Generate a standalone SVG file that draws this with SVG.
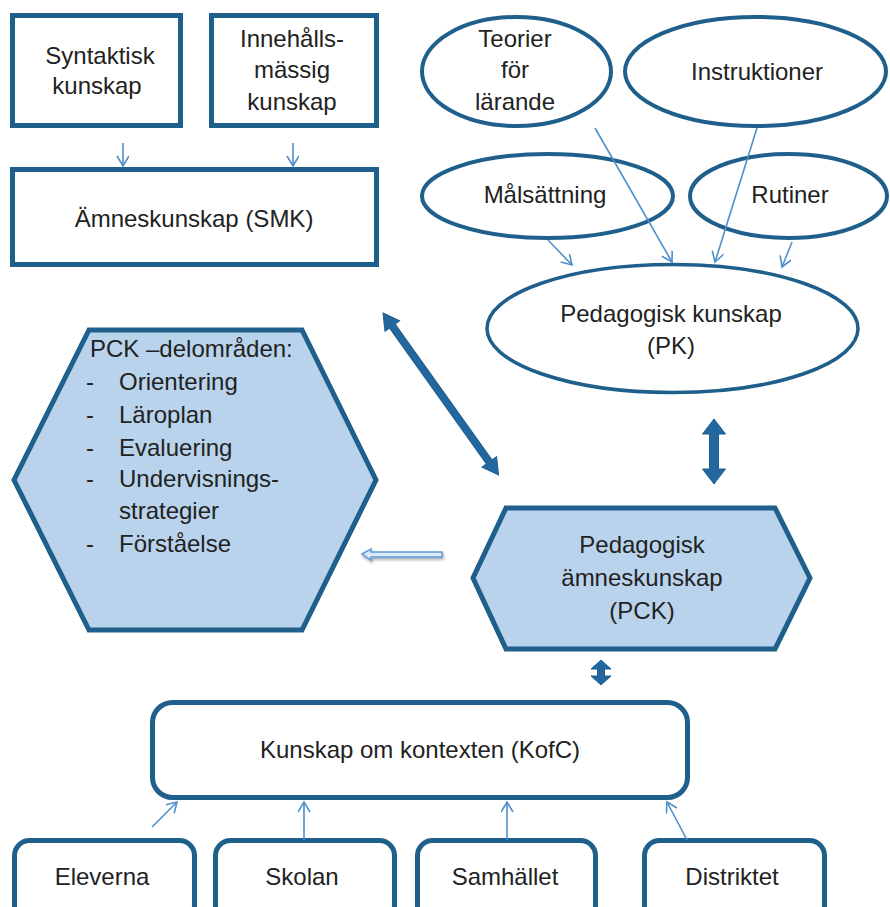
<svg xmlns="http://www.w3.org/2000/svg" width="890" height="907" viewBox="0 0 890 907">
  <style>
    text { font-family: "Liberation Sans", Arial, sans-serif; font-size: 24px; fill: #222; }
    .c { text-anchor: middle; }
    .box { fill: #fff; stroke: #1f5f8b; stroke-width: 5; }
    .oval { fill: #fff; stroke: #1f5f8b; stroke-width: 4; }
    .hex { fill: #b9d3ec; stroke: #1f5f8b; stroke-width: 5; stroke-linejoin: miter; }
    .thin { fill: none; stroke: #4f8fcb; stroke-width: 1.6; marker-end: url(#open); }
    .dbl { fill: #2367a0; stroke: #1f5f8b; stroke-width: 1; }
  </style>
  <defs>
    <marker id="open" markerUnits="userSpaceOnUse" markerWidth="14" markerHeight="14" refX="11" refY="6" orient="auto">
      <path d="M1,0 L11,6 L1,12" fill="none" stroke="#4f8fcb" stroke-width="1.6"/>
    </marker>
    <filter id="shadow" x="-20%" y="-50%" width="140%" height="250%">
      <feDropShadow dx="1" dy="2" stdDeviation="1.5" flood-color="#000" flood-opacity="0.35"/>
    </filter>
  </defs>

  <!-- subject matter knowledge -->
  <g id="syntaktisk">
    <rect class="box" x="12.5" y="15.5" width="168" height="110"/>
    <text class="c" x="100" y="64">Syntaktisk</text>
    <text class="c" x="97" y="94">kunskap</text>
  </g>
  <g id="innehallsmassig">
    <rect class="box" x="211.5" y="15.5" width="165" height="110"/>
    <text class="c" x="292" y="47">Innehålls-</text>
    <text class="c" x="292" y="78">mässig</text>
    <text class="c" x="292" y="110">kunskap</text>
  </g>
  <g id="smk">
    <rect class="box" x="12.5" y="169.5" width="364" height="95"/>
    <text class="c" x="194" y="227">Ämneskunskap (SMK)</text>
  </g>

  <!-- pedagogical knowledge sources -->
  <g id="teorier">
    <ellipse class="oval" cx="516.5" cy="71.5" rx="94.5" ry="54.5"/>
    <text class="c" x="515" y="47">Teorier</text>
    <text class="c" x="515" y="78">för</text>
    <text class="c" x="515" y="110">lärande</text>
  </g>
  <g id="instruktioner">
    <ellipse class="oval" cx="755.5" cy="71.5" rx="130.5" ry="54.5"/>
    <text class="c" x="757" y="80">Instruktioner</text>
  </g>
  <g id="malsattning">
    <ellipse class="oval" cx="547.5" cy="196" rx="125.5" ry="42"/>
    <text class="c" x="545" y="203">Målsättning</text>
  </g>
  <g id="rutiner">
    <ellipse class="oval" cx="788.5" cy="196" rx="98.5" ry="42"/>
    <text class="c" x="790" y="203">Rutiner</text>
  </g>
  <g id="pk">
    <ellipse class="oval" cx="672.5" cy="328.5" rx="185.5" ry="64" style="stroke-width:3.5"/>
    <text class="c" x="671" y="322">Pedagogisk kunskap</text>
    <text class="c" x="671" y="354">(PK)</text>
  </g>

  <!-- PCK -->
  <g id="pck-delomraden">
    <polygon class="hex" points="89,330 302,330 376,480 302,630 89,630 14,480"/>
    <text x="90" y="357">PCK –delområden:</text>
    <text x="86" y="390">-</text><text x="119" y="390">Orientering</text>
    <text x="86" y="423">-</text><text x="119" y="423">Läroplan</text>
    <text x="86" y="456">-</text><text x="119" y="456">Evaluering</text>
    <text x="86" y="487">-</text><text x="119" y="487">Undervisnings-</text>
    <text x="119" y="519">strategier</text>
    <text x="86" y="552">-</text><text x="119" y="552">Förståelse</text>
  </g>
  <g id="pck">
    <polygon class="hex" points="506,508 775,508 810,578 775,649 506,649 473,578"/>
    <text class="c" x="642" y="553">Pedagogisk</text>
    <text class="c" x="642" y="586">ämneskunskap</text>
    <text class="c" x="642" y="619">(PCK)</text>
  </g>

  <!-- context knowledge -->
  <g id="kofc">
    <rect class="box" x="152.5" y="702.5" width="535" height="95" rx="20"/>
    <text class="c" x="420" y="758">Kunskap om kontexten (KofC)</text>
  </g>
  <g id="eleverna">
    <rect class="box" x="14.5" y="840.5" width="180" height="80" rx="15"/>
    <text class="c" x="102" y="885">Eleverna</text>
  </g>
  <g id="skolan">
    <rect class="box" x="215.5" y="840.5" width="179" height="80" rx="15"/>
    <text class="c" x="302" y="885">Skolan</text>
  </g>
  <g id="samhallet">
    <rect class="box" x="417.5" y="840.5" width="178" height="80" rx="15"/>
    <text class="c" x="505" y="885">Samhället</text>
  </g>
  <g id="distriktet">
    <rect class="box" x="644.5" y="840.5" width="180" height="80" rx="15"/>
    <text class="c" x="732" y="885">Distriktet</text>
  </g>

  <!-- connectors -->
  <g id="connectors">
    <line class="thin" x1="123" y1="143" x2="123" y2="166"/>
    <line class="thin" x1="293" y1="143" x2="293" y2="166"/>

    <line class="thin" x1="548" y1="240" x2="572" y2="265"/>
    <line class="thin" x1="595" y1="128" x2="672" y2="262"/>
    <line class="thin" x1="757" y1="128" x2="715" y2="262"/>
    <line class="thin" x1="792" y1="242" x2="782" y2="267"/>

    <line class="thin" x1="152" y1="827" x2="177" y2="802"/>
    <line class="thin" x1="304" y1="840" x2="304" y2="802"/>
    <line class="thin" x1="507" y1="840" x2="507" y2="802"/>
    <line class="thin" x1="687" y1="840" x2="667" y2="802"/>

    <!-- SMK <-> PCK -->
    <polygon class="dbl" transform="translate(383,313) rotate(54.5)"
      points="0,0 16,-9 16,-3.5 183,-3.5 183,-9 199,0 183,9 183,3.5 16,3.5 16,9"/>
    <!-- PK <-> PCK -->
    <polygon class="dbl" transform="translate(714,419) rotate(90)"
      points="0,0 15,-11.5 15,-4.5 50,-4.5 50,-11.5 65,0 50,11.5 50,4.5 15,4.5 15,11.5"/>
    <!-- PCK <-> KofC -->
    <polygon class="dbl" transform="translate(601,660) rotate(90)"
      points="0,0 9,-10 9,-3.5 16,-3.5 16,-10 25,0 16,10 16,3.5 9,3.5 9,10"/>
    <!-- PCK -> sub-areas -->
    <polygon filter="url(#shadow)" fill="#dce9f6" stroke="#5b9bd5" stroke-width="1.5"
      points="362,554 371,549 371,552 442,552 442,557 371,557 371,560"/>
  </g>
</svg>
